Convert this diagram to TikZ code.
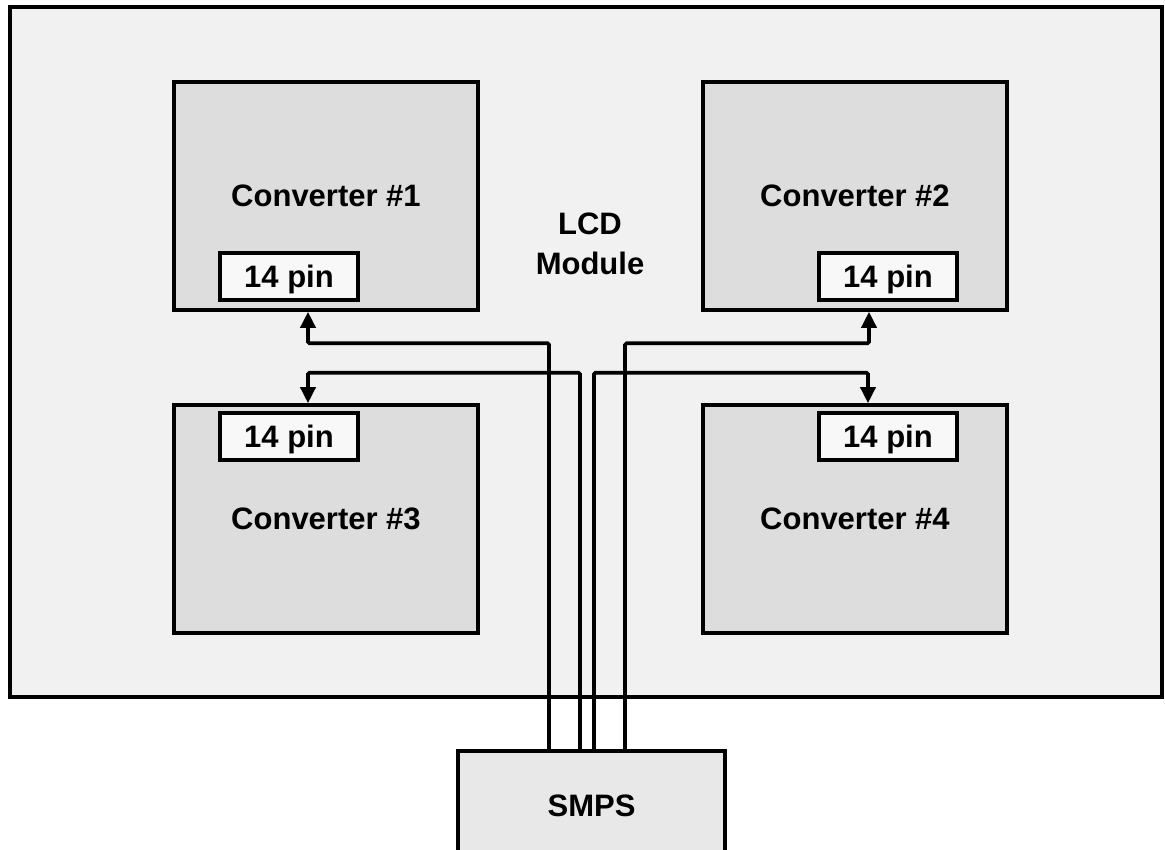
\documentclass[tikz,border=0pt]{standalone}
\usepackage{fontspec}
\setmainfont{Liberation Sans}
\usetikzlibrary{arrows.meta}
\definecolor{modbg}{HTML}{F1F1F1}
\definecolor{convfill}{HTML}{DDDDDD}
\definecolor{pinfill}{HTML}{F8F8F8}
\definecolor{smpsfill}{HTML}{E8E8E8}
\tikzset{
  lbl/.style={font=\fontsize{31}{40}\selectfont\bfseries},
  convbox/.style={draw=black, line width=3.6pt, fill=convfill, minimum width=304pt, minimum height=228pt, inner sep=0pt, lbl},
  pinbox/.style={draw=black, line width=3.6pt, fill=pinfill, minimum width=138pt, minimum height=47pt, inner sep=0pt, text depth=0pt, lbl},
  smpsbox/.style={draw=black, line width=3.6pt, fill=smpsfill, minimum width=267pt, minimum height=110pt, inner sep=0pt, lbl},
  wire/.style={line width=3.6pt, rounded corners=1.5pt, -{Triangle[width=15pt,length=16pt]}}
}
\begin{document}
\begin{tikzpicture}[x=1pt,y=-1pt]
\useasboundingbox (0,0) rectangle (1165,850);
\clip (0,0) rectangle (1165,850);
\fill[white] (0,0) rectangle (1165,850);
\node[draw=black, line width=4.5pt, fill=modbg, minimum width=1152pt, minimum height=690pt, inner sep=0pt] (lcd) at (586,352) {};
\node[convbox] (c1) at (326,196) {Converter \#1};
\node[convbox] (c2) at (855,196) {Converter \#2};
\node[convbox] (c3) at (326,519) {Converter \#3};
\node[convbox] (c4) at (855,519) {Converter \#4};
\node[pinbox] (p1) at (289,276.5) {14 pin};
\node[pinbox] (p2) at (888,276.5) {14 pin};
\node[pinbox] (p3) at (289,436.5) {14 pin};
\node[pinbox] (p4) at (888,436.5) {14 pin};
\node[lbl, align=center, inner sep=0pt] (lcdlabel) at (590,244) {LCD\\Module};
\node[smpsbox] (smps) at (591.5,806) {SMPS};
\draw[wire] ([xshift=-42.5pt]smps.north) |- ([xshift=-18pt,yshift=-31.5pt]c1.south) -- ([xshift=-18pt]c1.south);
\draw[wire] ([xshift=-11.5pt]smps.north) |- ([xshift=-18pt,yshift=30.5pt]c3.north) -- ([xshift=-18pt]c3.north);
\draw[wire] ([xshift=2.5pt]smps.north) |- ([xshift=13pt,yshift=30.5pt]c4.north) -- ([xshift=13pt]c4.north);
\draw[wire] ([xshift=33.5pt]smps.north) |- ([xshift=14pt,yshift=-31.5pt]c2.south) -- ([xshift=14pt]c2.south);
\end{tikzpicture}
\end{document}
